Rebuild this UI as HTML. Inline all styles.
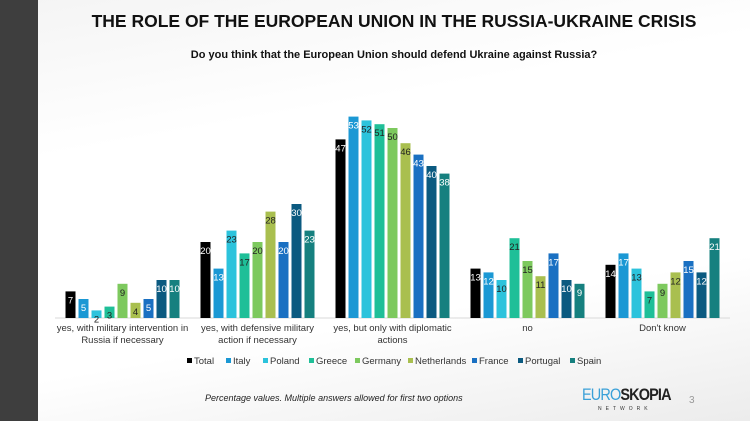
<!DOCTYPE html>
<html><head><meta charset="utf-8"><style>
body{margin:0;width:750px;height:421px;overflow:hidden;font-family:"Liberation Sans",sans-serif;background:linear-gradient(170deg,#f4f4f4 0%,#ffffff 30%,#ffffff 70%,#ececec 100%);position:relative}
.side{position:absolute;left:0;top:0;width:38px;height:421px;background:#3e3e3e}
.title{position:absolute;left:38px;width:712px;top:11px;text-align:center;font-weight:bold;font-size:17.5px;color:#111}
.sub{position:absolute;left:38px;width:712px;top:49px;text-align:center;font-weight:bold;font-size:11px;color:#111}
.foot{position:absolute;left:205px;top:393px;font-style:italic;font-size:9px;color:#222}
.logo{position:absolute;left:582px;top:387px;font-weight:bold;font-size:17px;letter-spacing:-1px;line-height:16px;transform:scaleX(0.85);transform-origin:left}
.net{position:absolute;left:598px;top:406px;font-size:5px;letter-spacing:4px;color:#333}
.pg{position:absolute;left:689px;top:395px;font-size:10px;color:#999}
</style></head><body>
<div class="side"></div>
<div class="title">THE ROLE OF THE EUROPEAN UNION IN THE RUSSIA-UKRAINE CRISIS</div>
<div class="sub">Do you think that the European Union should defend Ukraine against Russia?</div>
<svg id="chart" width="750" height="421" style="position:absolute;left:0;top:0"></svg>
<div class="foot">Percentage values. Multiple answers allowed for first two options</div>
<div class="logo"><span style="color:#3aa0d8;font-weight:normal">EURO</span><span style="color:#222">SKOPIA</span></div>
<div class="net">NETWORK</div>
<div class="pg">3</div>
<script>
const categories=[["yes, with military intervention in","Russia if necessary"],["yes, with defensive military","action if necessary"],["yes, but only with diplomatic","actions"],["no"],["Don't know"]];
const seriesNames=["Total","Italy","Poland","Greece","Germany","Netherlands","France","Portugal","Spain"];
const Total=[7,20,47,13,14];
const Italy=[5,13,53,12,17];
const Poland=[2,23,52,10,13];
const Greece=[3,17,51,21,7];
const Germany=[9,20,50,15,9];
const Netherlands=[4,28,46,11,12];
const France=[5,20,43,17,15];
const Portugal=[10,30,40,10,12];
const Spain=[10,23,38,9,21];
const series=[Total,Italy,Poland,Greece,Germany,Netherlands,France,Portugal,Spain];
const colors=["#000000","#1b98d4","#2cc3dc","#1fbf98","#7dc95e","#a9bf4f","#1a70c2","#0b5a80","#16807f"];
const darkLabel=[false,false,true,true,true,true,false,false,false];
const svg=document.getElementById('chart');const NS='http://www.w3.org/2000/svg';
const base=318,unit=3.8,x0=55,catW=135,step=13,bw=10;
const y=v=>base-v*unit;
const cx=i=>x0+catW*i+catW/2;
function mk(t,a){const e=document.createElementNS(NS,t);for(const k in a)e.setAttribute(k,a[k]);svg.appendChild(e);return e;}
const ax=mk('line',{x1:x0,x2:x0+catW*5,y1:base,y2:base,stroke:'#d9d9d9'});


categories.forEach((c,i)=>{
 series.forEach((s,j)=>{
  const bx=cx(i)-(8*step+bw)/2+j*step;
  const r=mk('rect',{x:bx,y:y(s[i]),width:bw,height:s[i]*unit,fill:colors[j]});
  
  
  const t=mk('text',{x:bx+bw/2,y:y(s[i])+12,'text-anchor':'middle','font-size':'9.5','fill':darkLabel[j]?'#222':'#fff'});
  t.textContent=s[i];
  
  
 });
 c.forEach((ln,k)=>{
  const t=mk('text',{x:cx(i),y:331+k*12,'text-anchor':'middle','font-size':'9.5','fill':'#333'});
  t.textContent=ln;
  
  
 });
});
const lw=[39,37,46,46,53,64,46,52,40];
let lx=187;
seriesNames.forEach((n,j)=>{
 const g=document.createElementNS(NS,'g');svg.appendChild(g);
 
 
 const r=document.createElementNS(NS,'rect');r.setAttribute('x',lx);r.setAttribute('y',358);r.setAttribute('width',5);r.setAttribute('height',5);r.setAttribute('fill',colors[j]);g.appendChild(r);
 const t=document.createElementNS(NS,'text');t.setAttribute('x',lx+7);t.setAttribute('y',364);t.setAttribute('font-size','9.5');t.setAttribute('fill','#333');t.textContent=n;g.appendChild(t);
 lx+=lw[j];
});
</script>
</body></html>
